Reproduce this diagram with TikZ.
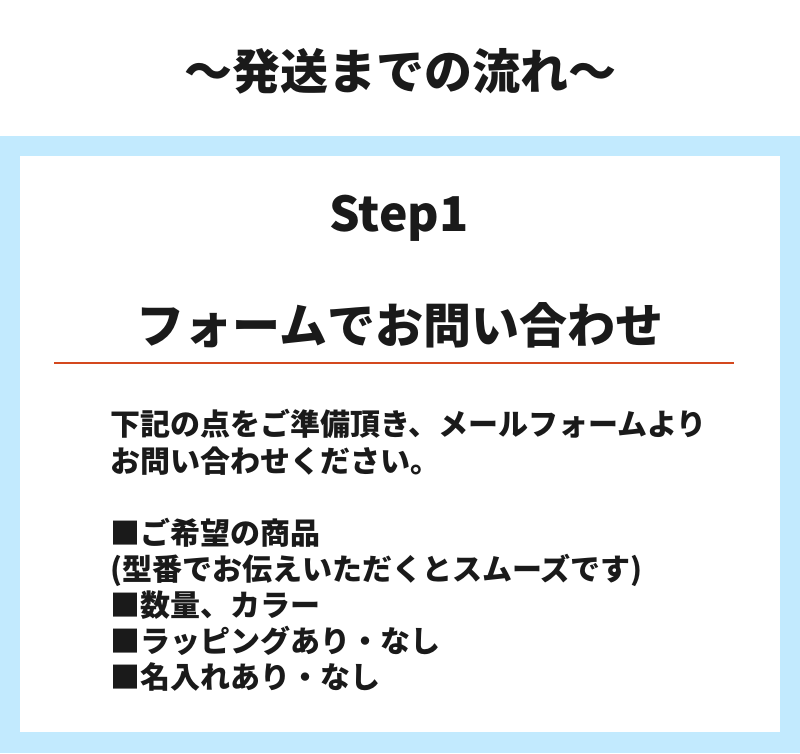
\documentclass[tikz,border=0pt]{standalone}
\usepackage{fontspec}
\newfontfamily\jp{Noto Sans CJK JP}
\definecolor{ink}{HTML}{1A1A1A}
\definecolor{band}{HTML}{C2EAFE}
\definecolor{rulecol}{HTML}{D4481E}
\begin{document}
\begin{tikzpicture}[x=1pt,y=-1pt,
  txt/.style={inner sep=0pt, text=ink},
  big/.style={txt, anchor=base, font=\jp\bfseries\fontsize{48}{58}\selectfont},
  body/.style={txt, anchor=base west, font=\jp\bfseries\fontsize{30}{36}\selectfont},
]
\useasboundingbox (0,0) rectangle (800,753);
\fill[band] (0,136) rectangle (800,753);
\fill[white] (20,156) rectangle (780,732);
\node[big] (title) at (400,89) {〜発送までの流れ〜};
\node[big] (step) at (399,231) {Step1};
\node[big] (head) at (400,343) {フォームでお問い合わせ};
\coordinate (ruleL) at (54,363);
\coordinate (ruleR) at (734,363);
\draw[rulecol, line width=1.5pt] (ruleL) -- (ruleR);
\node[body] (l1) at (110,435) {下記の点をご準備頂き、メールフォームより};
\node[body] (l2) at (110,472) {お問い合わせください。};
\node[body] (l3) at (110,544) {■ご希望の商品};
\node[body] (l4) at (110,580) {(型番でお伝えいただくとスムーズです)};
\node[body] (l5) at (110,616) {■数量、カラー};
\node[body] (l6) at (110,652) {■ラッピングあり・なし};
\node[body] (l7) at (110,688) {■名入れあり・なし};
\end{tikzpicture}
\end{document}
